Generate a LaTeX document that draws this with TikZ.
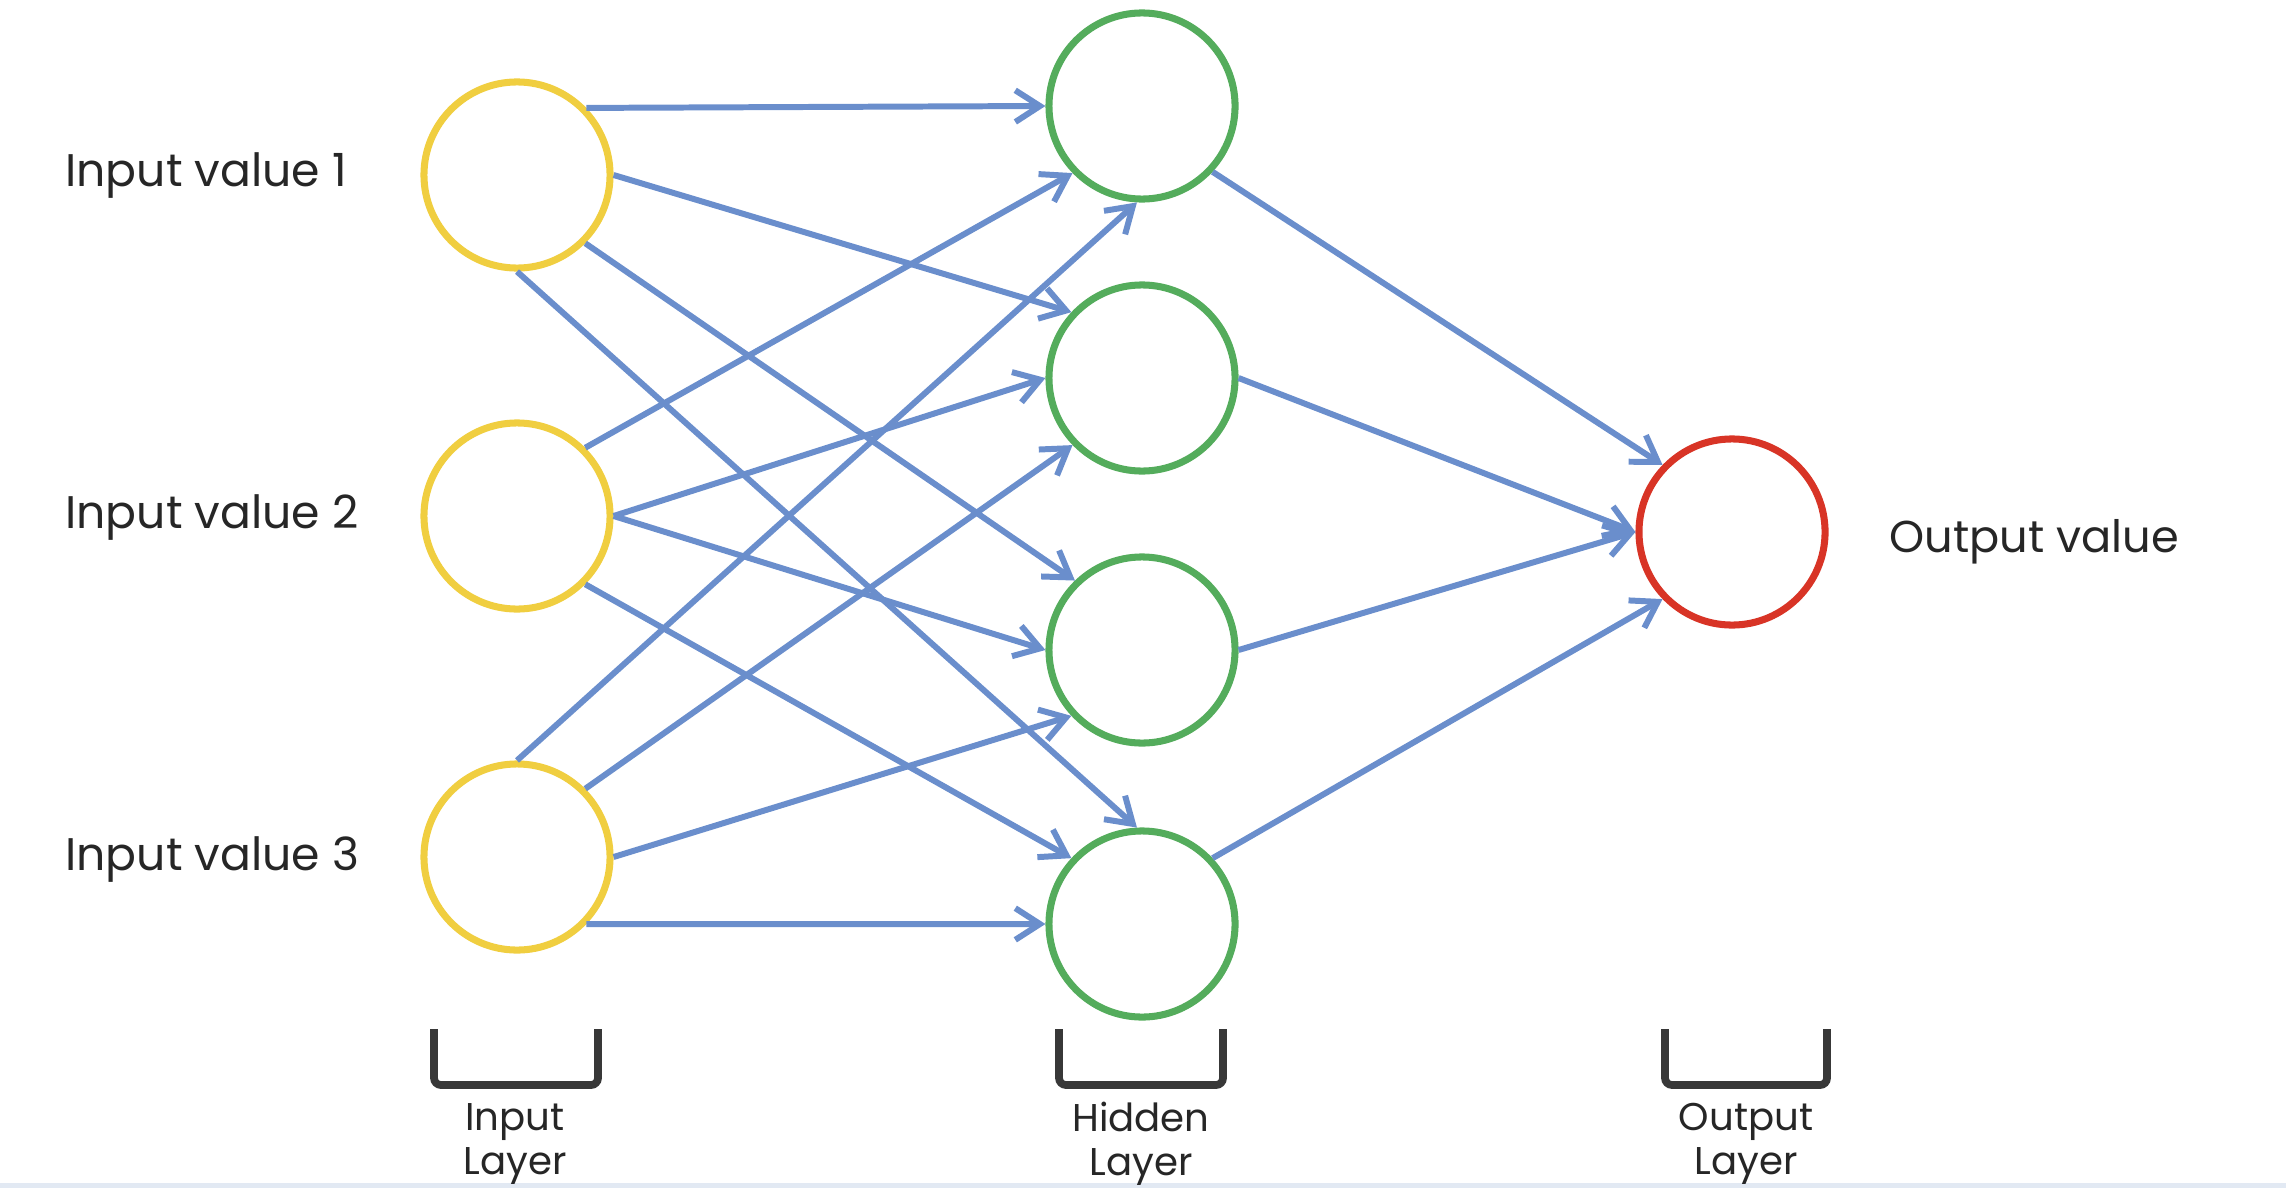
\documentclass[tikz,border=0pt]{standalone}
\usepackage{fontspec}
\setmainfont{Poppins}
\usetikzlibrary{arrows.meta}

\definecolor{nnyellow}{RGB}{240,206,64}
\definecolor{nngreen}{RGB}{84,172,92}
\definecolor{nnred}{RGB}{216,52,38}
\definecolor{nnblue}{RGB}{106,142,204}
\definecolor{nndark}{RGB}{56,56,56}
\definecolor{nnstrip}{RGB}{226,233,243}

\begin{document}
\begin{tikzpicture}[x=0.01cm,y=-0.01cm,
		neuron/.style={circle,draw,line width=2pt,minimum size=1.86cm,inner sep=0pt,fill=white},
		conn/.style={-{Straight Barb[length=7pt,width=9pt,line width=1.7pt]},line width=1.7pt,nnblue},
		bracket/.style={line width=2.2pt,nndark,rounded corners=2pt},
		valuelabel/.style={anchor=west,text=black!85,font=\fontsize{13}{15}\selectfont},
		layerlabel/.style={align=center,text=black!85,font=\fontsize{11}{12.6}\selectfont}]
		\useasboundingbox (0,0) rectangle (2286,1188);
		\fill[nnstrip] (0,1183) rectangle (2286,1188);

		% input layer
		\node[neuron,draw=nnyellow] (in1) at (517,175) {};
		\node[neuron,draw=nnyellow] (in2) at (517,516) {};
		\node[neuron,draw=nnyellow] (in3) at (517,857) {};
		% hidden layer
		\node[neuron,draw=nngreen] (hid1) at (1142,106) {};
		\node[neuron,draw=nngreen] (hid2) at (1142,378) {};
		\node[neuron,draw=nngreen] (hid3) at (1142,650) {};
		\node[neuron,draw=nngreen] (hid4) at (1142,924) {};
		% output layer
		\node[neuron,draw=nnred] (out) at (1732,532) {};

		\node[valuelabel] (val1) at (53,176) {Input value 1};
		\node[valuelabel] (val2) at (53,518) {Input value 2};
		\node[valuelabel] (val3) at (53,860) {Input value 3};
		\node[valuelabel,font=\fontsize{12.7}{15}\selectfont] (valout) at (1877,542) {Output value};

		% connections
		\foreach \a/\b/\s/\e in {in1/hid1/44/180, in1/hid2/0/137, in1/hid3/-45/134, in1/hid4/-90/93,
				in2/hid1/45/224, in2/hid2/0/180, in2/hid3/0/180, in2/hid4/-45/137,
				in3/hid1/90/267, in3/hid2/45/224, in3/hid3/0/223, in3/hid4/-44/180,
				hid1/out/-43/136, hid2/out/0/180, hid3/out/0/180, hid4/out/43/224}
			\draw[conn] (\a.\s) -- (\b.\e);

		% layer brackets
		\draw[bracket] (434,1029) -- (434,1085) -- (598,1085) -- (598,1029);
		\draw[bracket] (1059,1029) -- (1059,1085) -- (1223,1085) -- (1223,1029);
		\draw[bracket] (1665,1029) -- (1665,1085) -- (1827,1085) -- (1827,1029);
		\node[layerlabel] (inlab) at (515,1144) {Input\\Layer};
		\node[layerlabel] (hidlab) at (1141,1144) {Hidden\\Layer};
		\node[layerlabel] (outlab) at (1746,1144) {Output\\Layer};
	\end{tikzpicture}
\end{document}
